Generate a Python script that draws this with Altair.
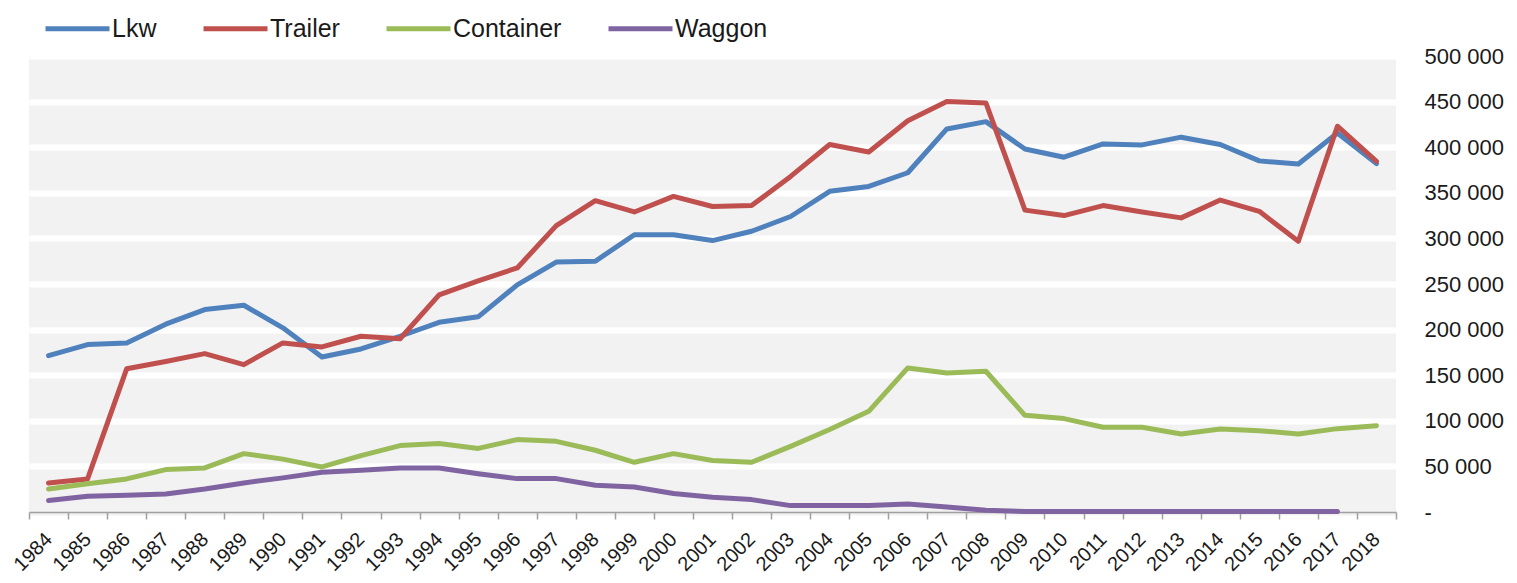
import altair as alt
import pandas as pd

years = [str(y) for y in range(1984, 2019)]

lkw = [171500, 183600, 185400, 206000, 222000, 226700, 201900, 170000, 178800, 192700,
       208000, 214000, 249000, 274000, 275000, 304000, 304000, 297600, 307800, 324000,
       351600, 357000, 372000, 420000, 428000, 398000, 389000, 403600, 402500, 411000,
       403000, 385000, 381600, 415600, 382000]
trailer = [31900, 36300, 157000, 165000, 173700, 161600, 185400, 181000, 192700, 190000,
           238000, 253500, 267600, 314000, 341400, 329000, 346000, 335000, 336000, 368000,
           403000, 394800, 429000, 450000, 448500, 331000, 325000, 336000, 329000, 322500,
           342000, 329700, 296800, 423000, 384600]
container = [25300, 31000, 36300, 46500, 48300, 64000, 58000, 49400, 61800, 72800,
             75000, 69700, 79400, 77500, 67700, 54500, 64000, 56400, 54500, 72000,
             90400, 110400, 158000, 152500, 154300, 106000, 102400, 92900, 92900, 85600,
             91000, 89200, 85600, 91400, 94700]
waggon = [12500, 17200, 18300, 19800, 25300, 31900, 37400, 43500, 45700, 48300,
          48300, 42000, 36600, 36600, 29300, 27500, 20200, 16100, 13600, 7000,
          7000, 7000, 8800, 5500, 1900, 500, 500, 500, 500, 500,
          500, 500, 500, 500, None]

series_names = ["Lkw", "Trailer", "Container", "Waggon"]
series_colors = ["#4F81BD", "#C0504D", "#9BBB59", "#8064A2"]

rows = []
for name, vals in zip(series_names, [lkw, trailer, container, waggon]):
    for y, v in zip(years, vals):
        if v is not None:
            rows.append({"Jahr": y, "Serie": name, "Wert": v})
df = pd.DataFrame(rows)

FONT = "Liberation Sans, Arial"

chart = alt.Chart(df).mark_line(strokeWidth=5, strokeCap="round", strokeJoin="round").encode(
    x=alt.X("Jahr:O", bandPosition=0.5,
            scale=alt.Scale(type="band", paddingInner=0, paddingOuter=0),
            axis=alt.Axis(title=None, labelAngle=-45, labelAlign="right", labelBaseline="middle",
                          labelPadding=17, labelFontSize=20, labelFont=FONT, labelColor="#1a1a1a",
                          tickBand="extent", tickSize=7, tickColor="#a0a0a0", tickWidth=1.5,
                          domainColor="#a0a0a0", domainWidth=1.5, grid=False)),
    y=alt.Y("Wert:Q",
            scale=alt.Scale(domain=[0, 500000], nice=False),
            axis=alt.Axis(title=None, orient="right", values=list(range(0, 500001, 50000)),
                          labelExpr="datum.value == 0 ? '-' : replace(format(datum.value, ','), regexp(',', 'g'), ' ')",
                          labelAlign="left", labelBaseline="middle", labelPadding=28,
                          labelFontSize=22, labelFont=FONT, labelColor="#1a1a1a",
                          ticks=False, domain=False, grid=True,
                          gridColor=alt.condition("datum.value == 0", alt.value("#f2f2f2"), alt.value("#ffffff")),
                          gridWidth=6)),
    color=alt.Color("Serie:N", sort=series_names,
                    scale=alt.Scale(domain=series_names, range=series_colors),
                    legend=alt.Legend(title=None, orient="none", direction="horizontal",
                                      legendX=14, legendY=-62,
                                      symbolType="stroke", symbolSize=4096, symbolStrokeWidth=5,
                                      labelFontSize=25, labelFont=FONT, labelColor="#1a1a1a",
                                      labelOffset=0, columnPadding=36, padding=0)),
).properties(
    width=1367, height=456,
    autosize=alt.AutoSizeParams(type="none"),
    padding={"left": 21, "top": 48, "right": 113, "bottom": 63},
).configure_view(
    fill="#f2f2f2", stroke=None
)

chart.save("out.html", embed_options={"renderer": "svg", "actions": False})
